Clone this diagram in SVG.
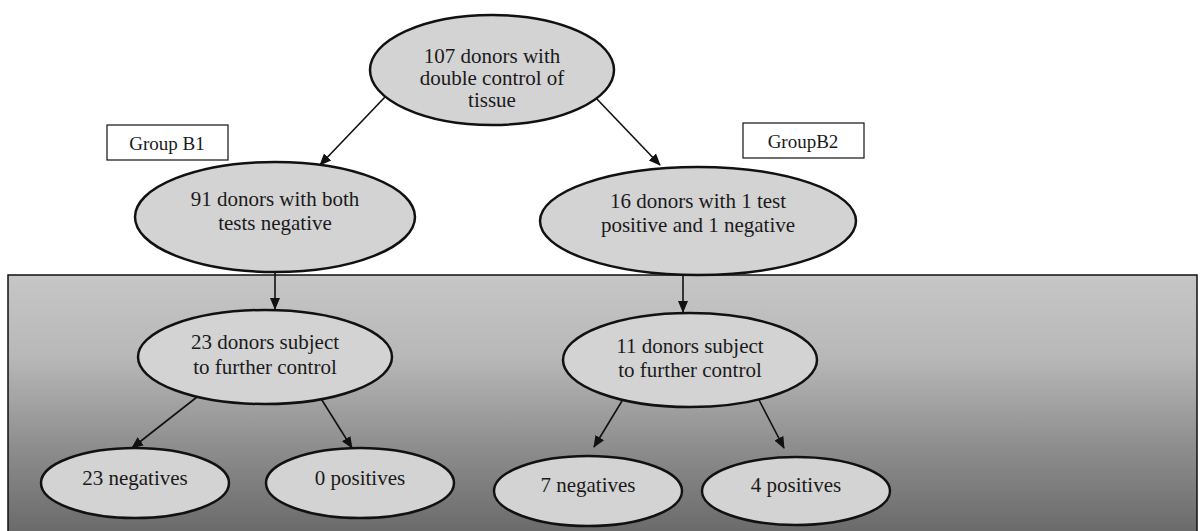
<svg xmlns="http://www.w3.org/2000/svg" width="1200" height="531" viewBox="0 0 1200 531">
<defs>
<linearGradient id="bg" x1="0" y1="0" x2="0" y2="1">
<stop offset="0" stop-color="#c6c6c6"/>
<stop offset="0.3" stop-color="#b8b8b8"/>
<stop offset="0.65" stop-color="#8c8c8c"/>
<stop offset="1" stop-color="#656565"/>
</linearGradient>
<marker id="ah" markerWidth="12" markerHeight="12" viewBox="0 0 12 12" refX="11" refY="6" orient="auto" markerUnits="userSpaceOnUse">
<path d="M0,1 L12,6 L0,11 Z" fill="#111"/>
</marker>
</defs>
<style>
.n{fill:#d3d3d3;stroke:#111;stroke-width:2.5}
.t{font-size:21px;fill:#1a1a1a;text-anchor:middle}
.g{font-size:19px;fill:#1a1a1a;text-anchor:middle}
.b{fill:#fff;stroke:#111;stroke-width:1.2}
.c line{stroke:#111;stroke-width:1.6;marker-end:url(#ah)}
</style>
<rect width="1200" height="531" fill="#fff"/>
<rect x="8" y="275" width="1189" height="270" fill="url(#bg)" stroke="#111" stroke-width="1.5"/>
<g font-family="'Liberation Serif', 'Times New Roman', serif">
<g id="labelB1"><rect class="b" x="107" y="125" width="121" height="35"/><text class="g" x="167" y="150">Group B1</text></g>
<g id="labelB2"><rect class="b" x="743" y="123" width="121" height="35"/><text class="g" x="803" y="148">GroupB2</text></g>
<g class="c" id="connectors">
<line x1="385" y1="97" x2="320" y2="165"/>
<line x1="595" y1="97" x2="660" y2="165"/>
<line x1="275" y1="272" x2="275" y2="309"/>
<line x1="683" y1="275" x2="683" y2="312"/>
<line x1="197" y1="397" x2="132" y2="448"/>
<line x1="320" y1="397" x2="352" y2="448"/>
<line x1="622" y1="401" x2="594" y2="447"/>
<line x1="759" y1="400" x2="784" y2="448"/>
</g>
<g id="n107"><ellipse class="n" cx="492" cy="70" rx="122" ry="55"/><text class="t" x="492" y="63">107 donors with</text><text class="t" x="492" y="85">double control of</text><text class="t" x="492" y="107">tissue</text></g>
<g id="n91"><ellipse class="n" cx="275" cy="217" rx="140" ry="55"/><text class="t" x="275" y="206">91 donors with both</text><text class="t" x="275" y="230">tests negative</text></g>
<g id="n16"><ellipse class="n" cx="698" cy="221" rx="158" ry="54"/><text class="t" x="698" y="208">16 donors with 1 test</text><text class="t" x="698" y="232">positive and 1 negative</text></g>
<g id="n23"><ellipse class="n" cx="265" cy="357" rx="127" ry="47"/><text class="t" x="265" y="349">23 donors subject</text><text class="t" x="265" y="374">to further control</text></g>
<g id="n11"><ellipse class="n" cx="690" cy="360" rx="127" ry="47"/><text class="t" x="690" y="353">11 donors subject</text><text class="t" x="690" y="377">to further control</text></g>
<g id="n23neg"><ellipse class="n" cx="135" cy="483" rx="94" ry="35"/><text class="t" x="135" y="485">23 negatives</text></g>
<g id="n0pos"><ellipse class="n" cx="360" cy="483" rx="94" ry="35"/><text class="t" x="360" y="485">0 positives</text></g>
<g id="n7neg"><ellipse class="n" cx="588" cy="491" rx="94" ry="35"/><text class="t" x="588" y="492">7 negatives</text></g>
<g id="n4pos"><ellipse class="n" cx="796" cy="491" rx="94" ry="34"/><text class="t" x="796" y="492">4 positives</text></g>
</g>
</svg>
